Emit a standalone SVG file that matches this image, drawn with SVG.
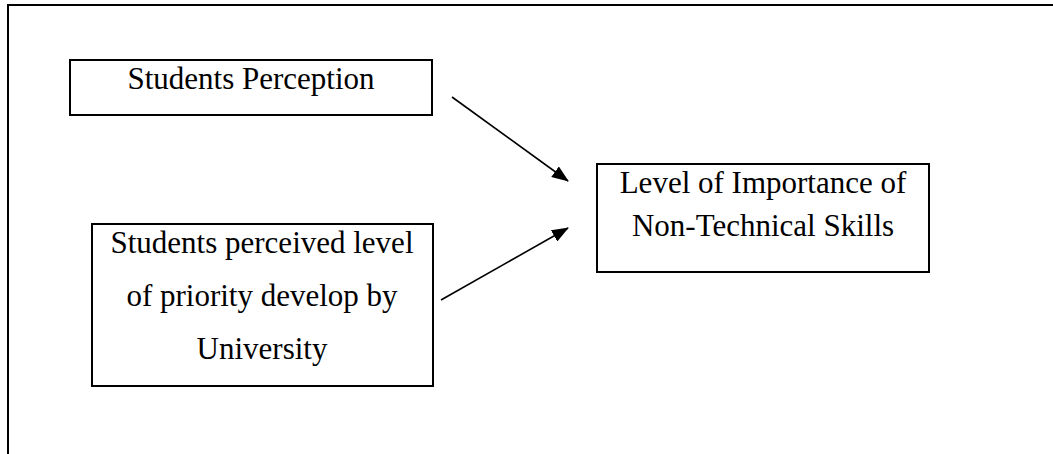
<svg xmlns="http://www.w3.org/2000/svg" width="1053" height="454" viewBox="0 0 1053 454">
  <style>
    .box { fill: #fff; stroke: #000; stroke-width: 2; }
    .lbl { font-family: "Liberation Serif", "Times New Roman", serif; font-size: 31px; fill: #000; text-anchor: middle; }
    .conn { stroke: #000; stroke-width: 1.6; fill: none; marker-end: url(#arrow); }
    .frame { stroke: #000; stroke-width: 2; fill: none; }
  </style>
  <defs>
    <marker id="arrow" viewBox="0 0 17 13" refX="16" refY="6.5" markerWidth="17" markerHeight="13" markerUnits="userSpaceOnUse" orient="auto">
      <path d="M0,0 L17,6.5 L0,13 z" fill="#000"/>
    </marker>
  </defs>
  <rect width="1053" height="454" fill="#fff"/>
  <g id="frame">
    <path class="frame" d="M8,454 L8,5 L1053,5"/>
  </g>
  <g id="node-perception">
    <rect class="box" x="70" y="60" width="362" height="55"/>
    <text class="lbl" x="251" y="89">Students Perception</text>
  </g>
  <g id="node-priority">
    <rect class="box" x="92" y="224" width="341" height="162"/>
    <text class="lbl" x="262" y="253">Students perceived level</text>
    <text class="lbl" x="262" y="306">of priority develop by</text>
    <text class="lbl" x="262" y="359">University</text>
  </g>
  <g id="node-importance">
    <rect class="box" x="597" y="164" width="332" height="108"/>
    <text class="lbl" x="763" y="193">Level of Importance of</text>
    <text class="lbl" x="763" y="236">Non-Technical Skills</text>
  </g>
  <g id="connectors">
    <line class="conn" x1="452" y1="97" x2="568" y2="181"/>
    <line class="conn" x1="441" y1="300" x2="568" y2="228"/>
  </g>
</svg>
